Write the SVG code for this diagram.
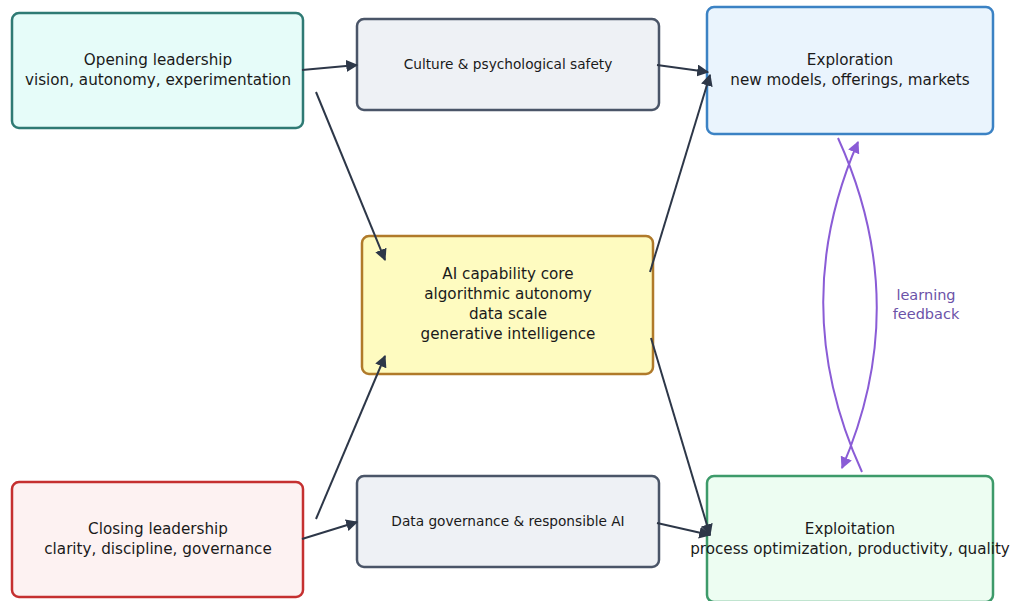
<svg xmlns="http://www.w3.org/2000/svg" width="1012" height="601" viewBox="0 0 1012 601">
<style>
.n{stroke-width:2.5}
.t{font-family:"DejaVu Sans",sans-serif;font-size:15.2px;fill:#1a1a1a;text-anchor:middle}
.s{font-family:"DejaVu Sans",sans-serif;font-size:13.7px;fill:#1a1a1a;text-anchor:middle}
.e{fill:none;stroke:#2d3748;stroke-width:2}
.p{fill:none;stroke:#8a5cd6;stroke-width:2}
.l{font-family:"DejaVu Sans",sans-serif;font-size:14.5px;fill:#6b52a8;text-anchor:middle}
</style>
<defs>
<marker id="a" viewBox="0 0 10 10" refX="9" refY="5" markerWidth="12" markerHeight="12" markerUnits="userSpaceOnUse" orient="auto"><path d="M0,0L10,5L0,10z" fill="#2d3748"/></marker>
<marker id="b" viewBox="0 0 10 10" refX="9" refY="5" markerWidth="12" markerHeight="12" markerUnits="userSpaceOnUse" orient="auto"><path d="M0,0L10,5L0,10z" fill="#8a5cd6"/></marker>
</defs>
<rect width="1012" height="601" fill="#fff"/>
<g id="opening"><rect class="n" x="12" y="13" width="291" height="115" rx="7" fill="#e6fcf9" stroke="#2f7a74"/><text class="t" x="158" y="65">Opening leadership</text><text class="t" x="158" y="85">vision, autonomy, experimentation</text></g>
<g id="culture"><rect class="n" x="357" y="19" width="302" height="91" rx="7" fill="#eef1f5" stroke="#4a5568"/><text class="s" x="508" y="69">Culture &amp; psychological safety</text></g>
<g id="exploration"><rect class="n" x="707" y="7" width="286" height="127" rx="7" fill="#eaf4fd" stroke="#3b82c4"/><text class="t" x="850" y="65">Exploration</text><text class="t" x="850" y="85">new models, offerings, markets</text></g>
<g id="core"><rect class="n" x="362" y="236" width="291" height="138" rx="7" fill="#fefbc0" stroke="#b07a2a"/><text class="t" x="508" y="279">AI capability core</text><text class="t" x="508" y="299">algorithmic autonomy</text><text class="t" x="508" y="319">data scale</text><text class="t" x="508" y="339">generative intelligence</text></g>
<g id="closing"><rect class="n" x="12" y="482" width="291" height="115" rx="7" fill="#fdf2f2" stroke="#c53030"/><text class="t" x="158" y="534">Closing leadership</text><text class="t" x="158" y="554">clarity, discipline, governance</text></g>
<g id="datagov"><rect class="n" x="357" y="476" width="302" height="91" rx="7" fill="#eef1f5" stroke="#4a5568"/><text class="s" x="508" y="526">Data governance &amp; responsible AI</text></g>
<g id="exploitation"><rect class="n" x="707" y="476" width="286" height="126" rx="7" fill="#edfdf2" stroke="#3d9a6a"/><text class="t" x="850" y="534">Exploitation</text><text class="t" x="850" y="554">process optimization, productivity, quality</text></g>
<g id="connectors">
<path class="e" d="M302,70L357,65" marker-end="url(#a)"/>
<path class="e" d="M316,92L385,260" marker-end="url(#a)"/>
<path class="e" d="M657,65L708,72" marker-end="url(#a)"/>
<path class="e" d="M650,272L710,75" marker-end="url(#a)"/>
<path class="e" d="M316,519L385,356" marker-end="url(#a)"/>
<path class="e" d="M302,539L357,522" marker-end="url(#a)"/>
<path class="e" d="M657,523L710,535" marker-end="url(#a)"/>
<path class="e" d="M651,338L710,535" marker-end="url(#a)"/>
<path class="p" d="M838,138C889,250 889,360 842,468" marker-end="url(#b)"/>
<path class="p" d="M862,472C811,360 811,250 858,142" marker-end="url(#b)"/>
<text class="l" x="926" y="300">learning</text><text class="l" x="926" y="319">feedback</text>
</g>
</svg>
